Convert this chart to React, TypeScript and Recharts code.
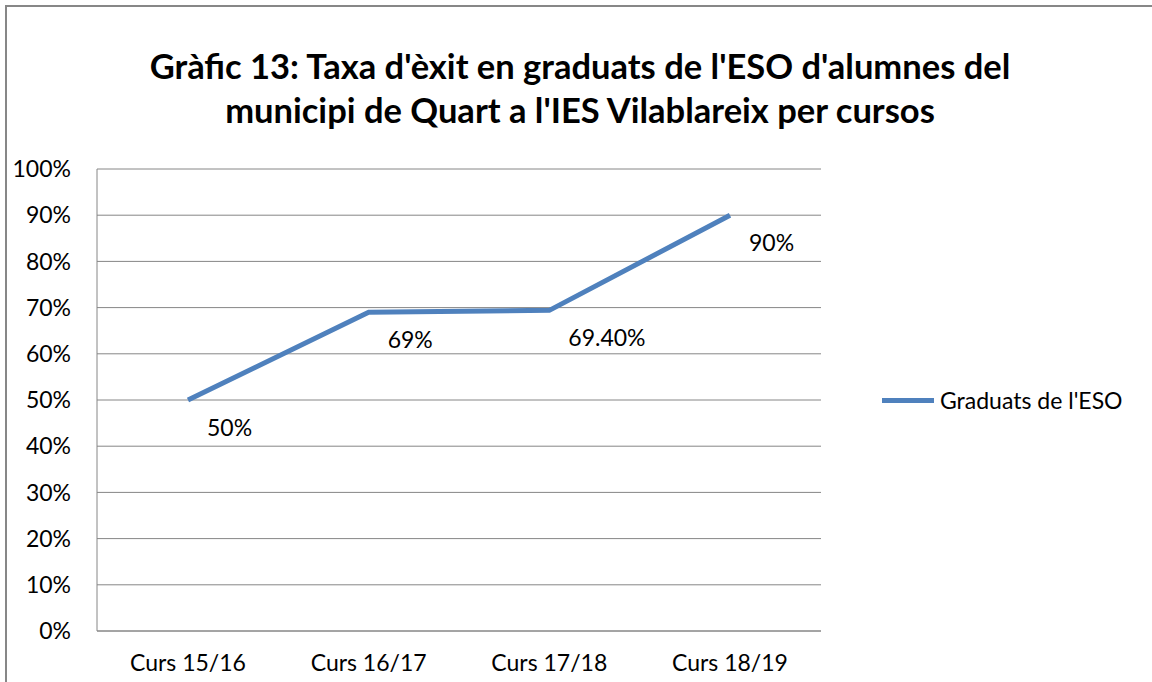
import React from 'react'
import { LineChart, Line, XAxis, YAxis, CartesianGrid, LabelList } from 'recharts'

const cursos = ['Curs 15/16', 'Curs 16/17', 'Curs 17/18', 'Curs 18/19']
const graduats = [50, 69, 69.4, 90]
const etiquetes = ['50%', '69%', '69.40%', '90%']
const yTicks = [0, 10, 20, 30, 40, 50, 60, 70, 80, 90, 100]

const serieNom = "Graduats de l'ESO"
const BLUE = '#4F81BD'
const GRID = '#868686'
const FONT = 'Lato, "Open Sans", sans-serif'
const FS = 23

const data = cursos.map((curs, i) => ({ curs, valor: graduats[i], etiqueta: etiquetes[i] }))

const DataLabel = (props: any) => {
  const { x, y, index } = props
  return (
    <text x={x + 19} y={y + 27} fontSize={FS} fontFamily={FONT} fill="#000" dominantBaseline="central">
      {etiquetes[index]}
    </text>
  )
}

const App: React.FC = () => {
  return (
    <div style={{ position: 'fixed', left: 0, top: 0, width: 1152, height: 682, background: '#fff', overflow: 'hidden' }}>
      <div
        style={{
          position: 'absolute',
          left: 5,
          top: 5,
          width: 1200,
          height: 720,
          border: '2px solid #878787',
          boxSizing: 'border-box',
        }}
      />
      <div
        style={{
          position: 'absolute',
          left: 0,
          top: 44,
          width: 1160,
          textAlign: 'center',
          fontFamily: FONT,
          fontWeight: 700,
          fontSize: 34.5,
          lineHeight: '44px',
          color: '#000',
        }}
      >
        Gràfic 13: Taxa d'èxit en graduats de l'ESO d'alumnes del
        <br />
        municipi de Quart a l'IES Vilablareix per cursos
      </div>
      <div style={{ position: 'absolute', left: 0, top: 0 }}>
        <LineChart width={1152} height={682} data={data} margin={{ top: 169, right: 331, bottom: 21, left: 0 }}>
          <CartesianGrid vertical={false} stroke={GRID} strokeWidth={1} />
          <XAxis
            dataKey="curs"
            height={30}
            axisLine={{ stroke: GRID }}
            tickLine={false}
            tickSize={0}
            tickMargin={24}
            tick={{ fill: '#000', fontSize: FS, fontFamily: FONT }}
            interval={0}
            padding={{ left: 91, right: 91 }}
          />
          <YAxis
            width={97}
            domain={[0, 100]}
            ticks={yTicks}
            tickFormatter={(v: number) => `${v}%`}
            axisLine={{ stroke: GRID }}
            tickLine={false}
            tickSize={0}
            tickMargin={26}
            tick={{ fill: '#000', fontSize: FS, fontFamily: FONT }}
          />
          <Line
            type="linear"
            dataKey="valor"
            name={serieNom}
            stroke={BLUE}
            strokeWidth={5}
            dot={false}
            activeDot={false}
            isAnimationActive={false}
          >
            <LabelList dataKey="etiqueta" content={DataLabel} />
          </Line>
        </LineChart>
      </div>
      <div
        style={{
          position: 'absolute',
          left: 882,
          top: 386,
          display: 'flex',
          alignItems: 'center',
          fontFamily: FONT,
          fontSize: FS,
          color: '#000',
          whiteSpace: 'nowrap',
        }}
      >
        <div style={{ width: 52, height: 5, background: BLUE, marginRight: 6 }} />
        <span>{serieNom}</span>
      </div>
    </div>
  )
}

export default App
